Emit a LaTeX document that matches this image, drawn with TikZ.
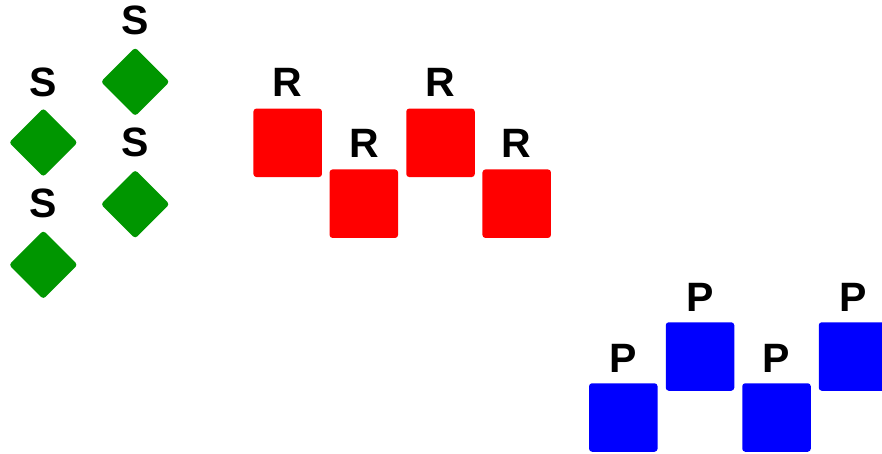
\documentclass[tikz,border=0pt]{standalone}
\usepackage{fontspec}
\setmainfont{Liberation Sans}
\definecolor{sgreen}{RGB}{0,150,0}
\definecolor{rred}{RGB}{255,0,0}
\definecolor{pblue}{RGB}{0,0,255}
\tikzset{
  lbl/.style={inner sep=0pt, font=\fontsize{41}{41}\selectfont\bfseries},
  sq/.style={inner sep=0pt, minimum size=68.5pt, rounded corners=3pt},
  redsq/.style={sq, fill=rred},
  bluesq/.style={sq, fill=pblue},
  dia/.style={inner sep=0pt, minimum size=48.5pt, rounded corners=3pt, rotate=45, fill=sgreen},
}
\begin{document}
\begin{tikzpicture}[x=1pt,y=-1pt]
\useasboundingbox (0,0) rectangle (882,453);
% green diamonds
\node[dia] (d1) at (43.3,142.5) {};
\node[dia] (d2) at (43.3,264.8) {};
\node[dia] (d3) at (135.2,81.8) {};
\node[dia] (d4) at (135.2,204.2) {};
\node[lbl] (sl1) at (43.3,82) {S};
\node[lbl] (sl2) at (43.3,203) {S};
\node[lbl] (sl3) at (135.2,20.5) {S};
\node[lbl] (sl4) at (135.2,142.5) {S};
% red squares
\node[redsq] (r1) at (287.7,142.8) {};
\node[redsq] (r2) at (363.8,203.7) {};
\node[redsq] (r3) at (440.5,142.8) {};
\node[redsq] (r4) at (516.7,203.7) {};
\node[lbl] (rl1) at (287.7,82) {R};
\node[lbl] (rl2) at (363.8,143) {R};
\node[lbl] (rl3) at (440.5,82) {R};
\node[lbl] (rl4) at (516.7,143) {R};
% blue squares
\node[bluesq] (p1) at (623.3,417.5) {};
\node[bluesq] (p2) at (700,356.5) {};
\node[bluesq] (p3) at (776.5,417.5) {};
\node[bluesq] (p4) at (853,356.5) {};
\node[lbl] (pl1) at (623.3,358.6) {P};
\node[lbl] (pl2) at (700,297) {P};
\node[lbl] (pl3) at (776.5,358.6) {P};
\node[lbl] (pl4) at (853,297) {P};
\end{tikzpicture}
\end{document}
